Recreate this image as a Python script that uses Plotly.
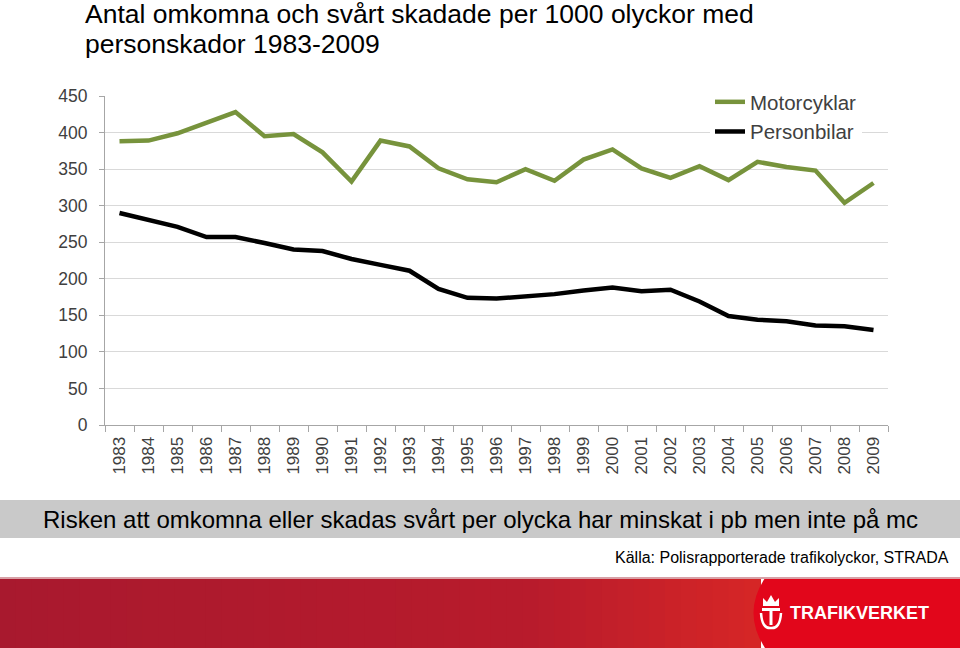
import plotly.graph_objects as go

years = [str(y) for y in range(1983, 2010)]
motorcyklar = [388, 389, 399, 414, 428, 395, 398, 373, 333, 389, 381, 351, 336, 332,
               350, 334, 363, 377, 351, 338, 354, 335, 360, 353, 348, 304, 331]
personbilar = [290, 281, 271, 257, 257, 249, 240, 238, 227, 219, 211, 186, 174, 173,
               176, 179, 184, 188, 183, 185, 169, 149, 144, 142, 136, 135, 130]
y_ticks = [0, 50, 100, 150, 200, 250, 300, 350, 400, 450]

title_line1 = "Antal omkomna och svårt skadade per 1000 olyckor med"
title_line2 = "personskador 1983-2009"
banner_text = "Risken att omkomna eller skadas svårt per olycka har minskat i pb men inte på mc"
source_text = "Källa: Polisrapporterade trafikolyckor, STRADA"
logo_text = "TRAFIKVERKET"

W, H = 960, 648
L, R, T, B = 105, 888, 96, 425


def px(x):
    return (x - L) / (R - L)


def py(y):
    return (B - y) / (B - T)


FONT = "Liberation Sans, Arial, sans-serif"

fig = go.Figure()
fig.add_trace(go.Scatter(x=years, y=motorcyklar, mode="lines", name="Motorcyklar",
                         line=dict(color="#77933c", width=4.5)))
fig.add_trace(go.Scatter(x=years, y=personbilar, mode="lines", name="Personbilar",
                         line=dict(color="#000000", width=4.5)))

shapes = []
# grey banner
shapes.append(dict(type="rect", xref="paper", yref="paper", x0=px(0), x1=px(W),
                   y0=py(538), y1=py(500), fillcolor="#c9c9c9", line=dict(width=0),
                   layer="below"))
# red band gradient (stepped)
c0 = (168, 25, 46)
c1 = (184, 27, 44)
c2 = (214, 38, 38)
n = 48
x_end = 760
for i in range(n):
    xa = i * x_end / n
    xb = (i + 1) * x_end / n + 1
    t = (i + 0.5) / n
    if t < 0.7:
        u = t / 0.7
        c = [round(c0[k] + (c1[k] - c0[k]) * u) for k in range(3)]
    else:
        u = (t - 0.7) / 0.3
        c = [round(c1[k] + (c2[k] - c1[k]) * u) for k in range(3)]
    shapes.append(dict(type="rect", xref="paper", yref="paper", x0=px(xa), x1=px(xb),
                       y0=py(648), y1=py(578), fillcolor="rgb(%d,%d,%d)" % tuple(c),
                       line=dict(width=0), layer="below"))


def P(x, y):
    return "%f,%f" % (px(x), py(y))


path = ("M " + P(765, 578) + " Q " + P(742, 613) + " " + P(765, 648) +
        " L " + P(W, 648) + " L " + P(W, 578) + " Z")
shapes.append(dict(type="path", xref="paper", yref="paper", path=path,
                   fillcolor="#e2061b", line=dict(width=0), layer="below"))
shapes.append(dict(type="rect", xref="paper", yref="paper", x0=px(0), x1=px(W),
                   y0=py(579), y1=py(577), fillcolor="#d8a0a6", line=dict(width=0),
                   layer="below"))
# simple emblem: crown + T
shapes.append(dict(type="path", xref="paper", yref="paper",
                   path="M " + P(763, 606) + " L " + P(763, 598) + " L " + P(767, 602) +
                   " L " + P(771, 595) + " L " + P(775, 602) + " L " + P(779, 598) +
                   " L " + P(779, 606) + " Z",
                   fillcolor="white", line=dict(width=0)))
shapes.append(dict(type="rect", xref="paper", yref="paper", x0=px(762), x1=px(780),
                   y0=py(611), y1=py(608), fillcolor="white", line=dict(width=0)))
shapes.append(dict(type="rect", xref="paper", yref="paper", x0=px(769.5), x1=px(772.5),
                   y0=py(625), y1=py(611), fillcolor="white", line=dict(width=0)))
shapes.append(dict(type="path", xref="paper", yref="paper",
                   path="M " + P(761, 613) + " Q " + P(762, 629) + " " + P(771, 628) +
                   " Q " + P(780, 629) + " " + P(781, 613),
                   line=dict(color="white", width=2.5)))

annotations = [
    dict(text=title_line1, xref="paper", yref="paper", x=px(83), y=py(14),
         xanchor="left", yanchor="middle", align="left", showarrow=False,
         font=dict(family=FONT, size=26.5, color="#000000")),
    dict(text=title_line2, xref="paper", yref="paper", x=px(83), y=py(44),
         xanchor="left", yanchor="middle", align="left", showarrow=False,
         font=dict(family=FONT, size=26.5, color="#000000")),
    dict(text=banner_text, xref="paper", yref="paper", x=px(480), y=py(519.5),
         xanchor="center", yanchor="middle", showarrow=False,
         font=dict(family=FONT, size=24, color="#000000")),
    dict(text=source_text, xref="paper", yref="paper", x=px(951), y=py(557),
         xanchor="right", yanchor="middle", showarrow=False,
         font=dict(family=FONT, size=16, color="#000000")),
    dict(text="<b>" + logo_text + "</b>", xref="paper", yref="paper", x=px(788), y=py(613),
         xanchor="left", yanchor="middle", showarrow=False,
         font=dict(family=FONT, size=18, color="#ffffff")),
]

fig.update_layout(
    width=W, height=H,
    margin=dict(l=L, r=W - R, t=T, b=H - B, autoexpand=False),
    paper_bgcolor="white", plot_bgcolor="white",
    font=dict(family=FONT, color="#404040"),
    showlegend=True,
    legend=dict(x=px(710), y=py(82), xanchor="left", yanchor="top",
                bgcolor="white", font=dict(size=20.5, color="#404040"),
                itemwidth=30, tracegroupgap=0),
    xaxis=dict(type="category", range=[-0.5, 26.5], tickangle=-90,
               tickfont=dict(size=17, color="#404040"),
               showline=True, linecolor="#a6a6a6", linewidth=1,
               ticks="outside", tickson="boundaries", ticklen=6, tickcolor="#a6a6a6",
               ticklabelstandoff=4,
               showgrid=False, fixedrange=True),
    yaxis=dict(range=[0, 450], tickvals=y_ticks,
               tickfont=dict(size=17.5, color="#404040"),
               showline=True, linecolor="#a6a6a6", linewidth=1,
               ticks="outside", ticklen=5, tickcolor="#a6a6a6",
               ticklabelstandoff=8,
               showgrid=True, gridcolor="#d9d9d9", gridwidth=1,
               zeroline=False, fixedrange=True),
    shapes=shapes,
    annotations=annotations,
)

fig.write_html("out.html",
               config={"displayModeBar": False},
               post_script="document.body.style.margin='0';"
                           "document.body.style.overflow='hidden';")
